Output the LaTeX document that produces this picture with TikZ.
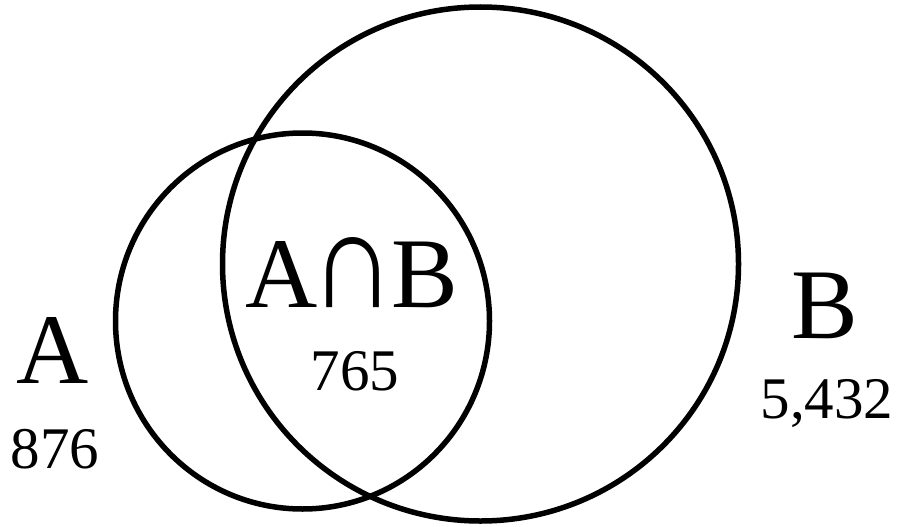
\documentclass[tikz,border=0pt]{standalone}
\usepackage{fontspec}
\usepackage{graphicx}
\setmainfont{Liberation Serif}
\begin{document}
\begin{tikzpicture}[x=1pt,y=-1pt,
  ring/.style={draw=black,line width=5.5pt},
  big/.style={font=\fontsize{100}{100}\selectfont,anchor=base,inner sep=0pt},
  num/.style={font=\fontsize{59}{59}\selectfont,anchor=base,inner sep=0pt}]
\useasboundingbox (0,0) rectangle (899,527);
\draw[ring] (302.5,321) ellipse [x radius=187,y radius=188];
\draw[ring] (480.5,264) ellipse [x radius=258,y radius=257];
\node[big] (la) at (53,383) {A};
\node[num] (na) at (55,468) {876};
\node[big] (lab) at (352,307) {A\hspace{5.5pt}\makebox[60pt][c]{\resizebox{85pt}{70pt}{∩}}\hspace{8.5pt}B};
\node[num] (nab) at (355,390) {765};
\node[big] (lb) at (825,338) {B};
\node[num] (nb) at (827,418) {5,432};
\end{tikzpicture}
\end{document}
